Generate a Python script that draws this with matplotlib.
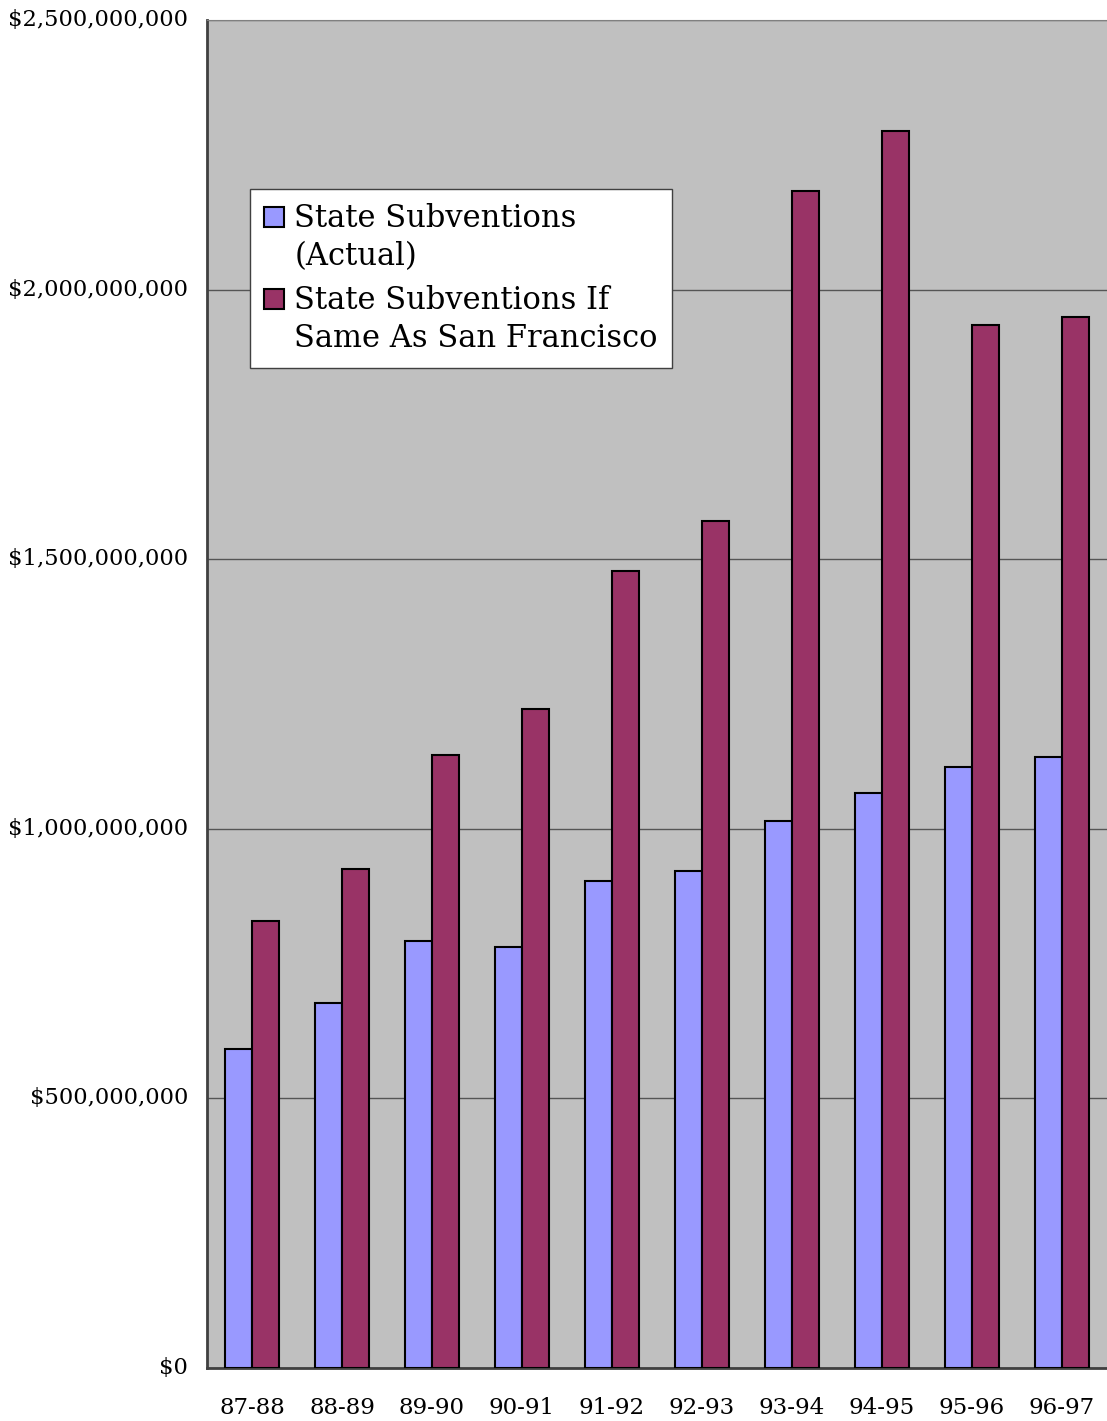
import numpy as np
import matplotlib.pyplot as plt
from matplotlib.ticker import FuncFormatter
from matplotlib.patches import Rectangle
from matplotlib.legend_handler import HandlerPatch
from matplotlib.container import BarContainer

years = ["87-88", "88-89", "89-90", "90-91", "91-92",
         "92-93", "93-94", "94-95", "95-96", "96-97"]
actual = [592e6, 677e6, 792e6, 781e6, 903e6,
          922e6, 1014e6, 1066e6, 1115e6, 1133e6]
if_sf = [829e6, 925e6, 1137e6, 1222e6, 1478e6,
         1571e6, 2183e6, 2294e6, 1934e6, 1949e6]

plt.rcParams['font.family'] = ['DejaVu Serif']

fig = plt.figure(figsize=(11.07, 14.21), dpi=100)
ax = fig.add_axes([207/1107, 1 - 1368/1421, 900/1107, 1348/1421])
ax.set_facecolor('#C0C0C0')

x = np.arange(len(years))
w = 0.3
ax.bar(x - w/2, actual, w, color='#9999FF', edgecolor='black', linewidth=1.5,
       label='State Subventions\n(Actual)', zorder=3)
ax.bar(x + w/2, if_sf, w, color='#993366', edgecolor='black', linewidth=1.5,
       label='State Subventions If\nSame As San Francisco', zorder=3)

ax.set_xlim(-0.5, len(years) - 0.5)
ax.set_ylim(0, 2.5e9)
ax.set_yticks(np.arange(0, 2.5e9 + 1, 5e8))
ax.yaxis.set_major_formatter(FuncFormatter(lambda v, p: '${:,.0f}'.format(v)))
ax.set_xticks(x)
ax.set_xticklabels(years)
ax.tick_params(axis='both', length=0)
ax.tick_params(axis='x', pad=21, labelsize=16.5)
ax.tick_params(axis='y', pad=13.5, labelsize=16.3)
for lbl in ax.get_yticklabels():
    lbl.set_verticalalignment('center')
ax.grid(axis='y', color='#555555', linewidth=1, zorder=1)

ax.spines['left'].set_color('#404040')
ax.spines['left'].set_linewidth(2)
ax.spines['bottom'].set_color('#404040')
ax.spines['bottom'].set_linewidth(2)
ax.spines['top'].set_color('#808080')
ax.spines['right'].set_visible(False)


def top_square(legend, orig_handle, xdescent, ydescent, width, height, fontsize):
    # put the swatch next to the first text line
    return Rectangle((-xdescent, -ydescent + 0.72 * fontsize), width, height)


def copy_style(handle, orig):
    handle.set_facecolor(orig[0].get_facecolor())
    handle.set_edgecolor(orig[0].get_edgecolor())
    handle.set_linewidth(orig[0].get_linewidth())


leg = ax.legend(loc='upper left', bbox_to_anchor=(43/900, 1 - 169/1348),
                fontsize=22, frameon=True, fancybox=False, handlelength=0.65,
                handleheight=0.65, handletextpad=0.35, borderpad=0.45,
                labelspacing=0.4, borderaxespad=0,
                handler_map={BarContainer: HandlerPatch(patch_func=top_square,
                                                        update_func=copy_style)})
for t in leg.get_texts():
    t.set_linespacing(1.32)
leg.get_frame().set_edgecolor('#404040')
leg.get_frame().set_facecolor('white')
leg.get_frame().set_alpha(1)
leg.get_frame().set_linewidth(1)

fig.savefig('out.png', dpi=100)
